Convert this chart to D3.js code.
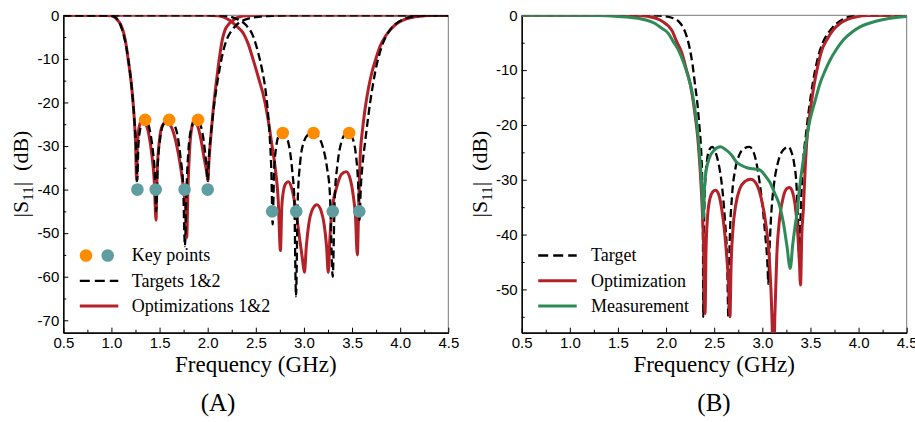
<!DOCTYPE html>
<html>
<head>
<meta charset="utf-8">
<script src="https://cdn.jsdelivr.net/npm/d3@7"></script>
<style>
body{margin:0;background:#fff;}
svg{display:block;}
.tick text{font-family:"Liberation Sans",Arial,sans-serif;font-size:15px;fill:#000;}
.serif{font-family:"Liberation Serif","Times New Roman",serif;fill:#000;}
</style>
</head>
<body>
<script>
// ticks
var freqTicks=[0.5,1.0,1.5,2.0,2.5,3.0,3.5,4.0,4.5];
var xTickLabels=["0.5","1.0","1.5","2.0","2.5","3.0","3.5","4.0","4.5"];
var freqMinor=[0.75,1.25,1.75,2.25,2.75,3.25,3.75,4.25];
var yTicksA=[0,-10,-20,-30,-40,-50,-60,-70];
var yTicksB=[0,-10,-20,-30,-40,-50];

// (A) key points [GHz, dB]
var keyOrange=[[1.35,-24],[1.60,-24],[1.90,-24],[2.78,-27],[3.10,-27],[3.47,-27]];
var keyTeal=[[1.27,-40],[1.46,-40],[1.76,-40],[2.00,-40],[2.67,-45],[2.92,-45],[3.30,-45],[3.575,-45]];

// (A) target 1 (dashed)
var target1=[[0.5,0],[0.95,0],[1.0,-0.1],[1.04,-0.4],[1.07,-1.2],[1.1,-2.6],[1.13,-4.8],[1.16,-8],[1.19,-12.5],
  [1.215,-17.5],[1.24,-24.5],[1.255,-30],[1.268,-38],[1.28,-30],[1.3,-26],[1.325,-24.3],[1.35,-24],[1.375,-24.6],
  [1.4,-26.5],[1.43,-31],[1.45,-36],[1.465,-45],[1.48,-35],[1.505,-28.5],[1.54,-25],[1.6,-24],[1.65,-25],[1.69,-28],
  [1.72,-33],[1.745,-39],[1.764,-53],[1.78,-40],[1.8,-31],[1.83,-26],[1.865,-24.3],[1.9,-24],[1.93,-25.5],[1.96,-29],
  [1.985,-34],[2.0,-38],[2.015,-32],[2.04,-26],[2.07,-20],[2.1,-15.5],[2.135,-11],[2.17,-7.5],[2.21,-5],[2.25,-3.5],
  [2.3,-2.2],[2.34,-1.5],[2.39,-1],[2.45,-0.6],[2.55,-0.3],[2.7,-0.1],[2.9,0],[4.5,0]];
// (A) target 2 (dashed)
var target2=[[0.5,0],[2.1,0],[2.18,-0.1],[2.25,-0.4],[2.32,-1],[2.4,-2.3],[2.474,-4.9],[2.526,-8.7],[2.57,-13],
  [2.6,-17],[2.625,-22],[2.645,-28],[2.662,-36],[2.675,-48],[2.69,-36],[2.71,-30.5],[2.74,-27.6],[2.78,-27],
  [2.82,-28],[2.85,-30.5],[2.88,-36],[2.9,-42],[2.918,-64.5],[2.935,-43],[2.96,-34],[3.0,-29],[3.05,-27.3],[3.1,-27],
  [3.15,-27.8],[3.2,-30.5],[3.24,-35],[3.27,-41],[3.299,-60],[3.32,-42],[3.35,-34],[3.39,-29],[3.43,-27.3],[3.47,-27],
  [3.51,-28.5],[3.54,-32],[3.562,-38],[3.578,-47],[3.59,-40],[3.61,-34],[3.634,-29.4],[3.687,-20.2],[3.738,-13.3],
  [3.808,-7.2],[3.894,-3.4],[4.016,-1.1],[4.17,-0.2],[4.3,0],[4.5,0]];
// (A) optimization 1 (red)
var opt1=[[0.5,0],[0.9,0],[1.0,-0.1],[1.03,-0.4],[1.06,-1],[1.09,-1.9],[1.12,-3.5],[1.145,-5.8],[1.175,-10.3],
  [1.21,-16.4],[1.235,-23],[1.25,-29],[1.262,-38],[1.27,-30],[1.285,-26],[1.31,-24.3],[1.335,-24],[1.36,-25],
  [1.39,-27.5],[1.42,-32],[1.445,-38],[1.463,-47],[1.475,-36],[1.5,-28.5],[1.53,-25.3],[1.575,-24.4],[1.62,-25.5],
  [1.67,-29],[1.72,-35],[1.755,-41],[1.772,-45],[1.782,-51],[1.795,-40],[1.815,-30],[1.84,-25.2],[1.865,-24],
  [1.89,-25],[1.93,-28.5],[1.965,-33],[1.99,-36],[2.003,-38],[2.012,-34],[2.025,-30],[2.05,-23.5],[2.076,-17.9],
  [2.1,-13.5],[2.128,-8.8],[2.155,-5.3],[2.18,-3.4],[2.22,-2],[2.25,-1.4],[2.3,-0.6],[2.34,-0.3],[2.4,-0.1],[2.5,0],[4.5,0]];
// (A) optimization 2 (red)
var opt2=[[0.5,0],[2.0,0],[2.1,-0.1],[2.15,-0.3],[2.2,-0.8],[2.25,-1.5],[2.3,-2.5],[2.37,-4.1],[2.42,-6.5],
  [2.474,-10.3],[2.53,-14.5],[2.59,-19.4],[2.64,-25.6],[2.665,-29.4],[2.7,-34.7],[2.733,-42.4],[2.756,-54],
  [2.77,-44],[2.79,-40],[2.815,-38.5],[2.84,-38.2],[2.87,-39.5],[2.9,-42.5],[2.93,-47],[2.96,-52],[2.985,-56],
  [3.005,-59],[3.025,-53],[3.05,-48],[3.09,-44.5],[3.135,-43.5],[3.18,-45],[3.21,-48],[3.235,-53],[3.253,-59],
  [3.27,-51],[3.3,-43.5],[3.34,-39.5],[3.39,-36.5],[3.44,-35.9],[3.48,-37.5],[3.51,-41],[3.535,-46],[3.555,-55],
  [3.568,-45],[3.583,-33.2],[3.61,-26],[3.634,-21.7],[3.67,-16.8],[3.704,-13.3],[3.75,-9.8],[3.79,-7.2],[3.85,-4.7],
  [3.894,-3.4],[3.96,-2],[4.03,-1.1],[4.12,-0.5],[4.206,-0.2],[4.3,-0.05],[4.5,0]];

// (B) target (dashed)
var targetB=[[0.5,0],[1.85,0],[1.9,-0.05],[2.0,-0.2],[2.075,-0.55],[2.13,-1.1],[2.17,-2],[2.215,-3.9],[2.245,-6],
  [2.275,-9],[2.3,-12.5],[2.327,-16.4],[2.345,-20],[2.362,-24],[2.375,-30],[2.383,-40],[2.387,-55],[2.393,-40],
  [2.405,-31],[2.425,-26.5],[2.45,-24.5],[2.48,-24],[2.51,-24.8],[2.545,-27],[2.58,-31],[2.61,-37],[2.635,-45],
  [2.647,-55],[2.66,-42],[2.685,-33],[2.72,-28],[2.76,-25.5],[2.81,-24.3],[2.865,-24],[2.91,-25],[2.95,-28],
  [2.99,-33],[3.03,-40],[3.055,-46],[3.062,-49],[3.072,-44],[3.09,-37],[3.12,-31],[3.16,-27],[3.2,-25],[3.24,-24.2],
  [3.27,-24],[3.3,-24.8],[3.33,-27],[3.355,-31],[3.372,-38],[3.385,-45],[3.395,-38],[3.41,-31],[3.43,-25.5],
  [3.455,-21.5],[3.478,-18],[3.53,-11.8],[3.6,-6.3],[3.65,-4.2],[3.703,-2.8],[3.77,-1.5],[3.84,-0.7],[3.9,-0.3],
  [4.0,-0.05],[4.1,0],[4.5,0]];
// (B) optimization (red)
var optB=[[0.5,0],[1.6,0],[1.75,-0.1],[1.85,-0.35],[1.937,-0.86],[2.0,-1.6],[2.058,-2.7],[2.11,-4.8],[2.162,-6.8],
  [2.21,-9.8],[2.25,-12.5],[2.3,-18],[2.33,-22.5],[2.355,-28.5],[2.375,-35],[2.392,-43],[2.405,-54.4],[2.415,-43],
  [2.43,-37],[2.455,-33.5],[2.485,-32.2],[2.515,-31.9],[2.545,-32.6],[2.575,-35],[2.605,-39],[2.63,-44],[2.65,-49],
  [2.664,-55],[2.675,-46],[2.695,-39],[2.725,-34.5],[2.765,-31.7],[2.82,-30.3],[2.88,-29.9],[2.94,-30.8],[2.99,-33.5],
  [3.04,-38.5],[3.075,-45],[3.1,-55],[3.115,-66],[3.13,-55],[3.15,-44],[3.18,-37],[3.22,-33],[3.255,-31.6],
  [3.285,-31.4],[3.315,-32.3],[3.34,-34.5],[3.365,-39],[3.385,-45],[3.397,-49.2],[3.41,-40],[3.426,-35.5],
  [3.445,-28],[3.46,-23.4],[3.49,-18.5],[3.513,-15.5],[3.55,-11.5],[3.582,-8.8],[3.62,-6.3],[3.669,-4.5],
  [3.74,-2.6],[3.807,-1.5],[3.89,-0.7],[3.98,-0.25],[4.1,-0.05],[4.5,0]];
// (B) measurement (green)
var measB=[[0.5,0],[1.3,-0.05],[1.5,-0.2],[1.71,-0.55],[1.8,-0.9],[1.885,-1.5],[1.95,-2.3],[2.023,-3.3],[2.075,-4.8],
  [2.127,-6.3],[2.18,-8.5],[2.23,-11.2],[2.27,-14],[2.3,-17.3],[2.33,-21.5],[2.353,-26.4],[2.372,-31.5],[2.387,-37],
  [2.4,-31],[2.42,-28],[2.45,-26],[2.5,-24.6],[2.565,-24],[2.62,-24.5],[2.68,-25.5],[2.733,-26.8],[2.786,-27.4],
  [2.84,-27.8],[2.9,-28],[2.96,-28.1],[3.01,-28.8],[3.045,-29.6],[3.08,-30.5],[3.13,-32.5],[3.184,-35],[3.22,-38],
  [3.255,-42],[3.29,-46.2],[3.315,-42],[3.34,-38.5],[3.357,-36.5],[3.39,-31],[3.426,-26.4],[3.46,-22.5],
  [3.495,-19.1],[3.55,-15.5],[3.6,-12.4],[3.65,-10.2],[3.703,-8.2],[3.77,-6.2],[3.841,-4.5],[3.93,-3.1],
  [4.015,-2.1],[4.12,-1.4],[4.222,-0.9],[4.35,-0.5],[4.465,-0.25],[4.5,-0.2]];

var red="#b22228", green="#2e8b57", orange="#ff8c00", teal="#5f9ea0";
var W=915,H=422,top0=15.3,bot=332.7,pw=385;

var svg=d3.select("body").append("svg").attr("width",W).attr("height",H);
var defs=svg.append("defs");

function panel(p){
  var x=d3.scaleLinear().domain([0.5,4.5]).range([p.left,p.left+pw]);
  var y=d3.scaleLinear().domain([0,p.yMin]).range([top0,bot]);
  var g=svg.append("g");

  defs.append("clipPath").attr("id","clip"+p.id)
    .append("rect").attr("x",p.left).attr("y",top0).attr("width",pw).attr("height",bot-top0);

  // top and right frame
  g.append("path")
    .attr("d","M"+x(0.5)+","+top0+"H"+x(4.5)+"V"+bot)
    .attr("fill","none").attr("stroke","#777").attr("stroke-width",1);

  g.append("g").attr("transform","translate(0,"+bot+")")
    .call(d3.axisBottom(x).tickValues(freqTicks).tickFormat(function(d,i){return xTickLabels[i];})
      .tickSizeInner(-5).tickSizeOuter(0).tickPadding(5));
  g.append("g").attr("transform","translate(0,"+bot+")")
    .call(d3.axisBottom(x).tickValues(freqMinor).tickFormat("").tickSizeInner(-3).tickSizeOuter(0));

  var yMinor=[];
  for(var i=0;i<p.yTicks.length;i++){ if(p.yTicks[i]-5>=p.yMin) yMinor.push(p.yTicks[i]-5); }
  g.append("g").attr("transform","translate("+p.left+",0)")
    .call(d3.axisLeft(y).tickValues(p.yTicks).tickFormat(d3.format("d")).tickSizeInner(-5).tickSizeOuter(0).tickPadding(4));
  g.append("g").attr("transform","translate("+p.left+",0)")
    .call(d3.axisLeft(y).tickValues(yMinor).tickFormat("").tickSizeInner(-3).tickSizeOuter(0));
  g.selectAll(".domain").attr("stroke","#000").attr("stroke-width",1.2);
  g.selectAll(".tick line").attr("stroke","#000");
  g.selectAll(".tick text").text(function(){return this.textContent.replace("\u2212","-");});

  var line=d3.line().x(function(d){return x(d[0]);}).y(function(d){return y(d[1]);}).curve(d3.curveMonotoneX);
  var plot=g.append("g").attr("clip-path","url(#clip"+p.id+")");
  p.series.forEach(function(s){
    plot.append("path").datum(s.data).attr("d",line)
      .attr("fill","none").attr("stroke",s.color).attr("stroke-width",s.width)
      .attr("stroke-dasharray",s.dash||null).attr("stroke-linejoin","round");
  });
  (p.points||[]).forEach(function(s){
    plot.selectAll(null).data(s.data).enter().append("circle")
      .attr("cx",function(d){return x(d[0]);}).attr("cy",function(d){return y(d[1]);})
      .attr("r",6.3).attr("fill",s.color);
  });

  // axis titles
  g.append("text").attr("class","serif").attr("x",p.left+pw/2).attr("y",371.5)
    .attr("text-anchor","middle").style("font-size","23px").text("Frequency (GHz)");
  var yt=g.append("text").attr("class","serif")
    .attr("transform","translate("+(p.left-35)+",174) rotate(-90)")
    .attr("text-anchor","middle").style("font-size","22px");
  yt.append("tspan").text("|S");
  yt.append("tspan").attr("dy",5).style("font-size","15px").text("11");
  yt.append("tspan").attr("dy",-5).text("|  (dB)").attr("xml:space","preserve");
  g.append("text").attr("class","serif").attr("x",p.labelX).attr("y",411)
    .attr("text-anchor","middle").style("font-size","25px").text(p.label);

  // legend
  var lg=g.append("g");
  p.legend.forEach(function(it,i){
    var ly=255.5+i*25.3;
    if(it.dots){
      lg.append("circle").attr("cx",p.left+22.7).attr("cy",ly).attr("r",6.3).attr("fill",orange);
      lg.append("circle").attr("cx",p.left+44.4).attr("cy",ly).attr("r",6.3).attr("fill",teal);
    } else {
      lg.append("line").attr("x1",p.left+16.5).attr("x2",p.left+55).attr("y1",ly).attr("y2",ly)
        .attr("stroke",it.color).attr("stroke-width",it.width).attr("stroke-dasharray",it.dash||null);
    }
    lg.append("text").attr("class","serif").attr("x",p.left+p.textDx).attr("y",ly+5.8)
      .style("font-size","18px").text(it.name);
  });
}

panel({id:"A",left:63.3,yMin:-72.85,yTicks:yTicksA,label:"(A)",labelX:218,textDx:68.4,
  series:[
    {data:opt1,color:red,width:3},
    {data:opt2,color:red,width:3},
    {data:target1,color:"#000",width:2.3,dash:"8,4"},
    {data:target2,color:"#000",width:2.3,dash:"8,4"}
  ],
  points:[{data:keyOrange,color:orange},{data:keyTeal,color:teal}],
  legend:[
    {name:"Key points",dots:true},
    {name:"Targets 1&2",color:"#000",width:2.3,dash:"10,5"},
    {name:"Optimizations 1&2",color:red,width:3}
  ]});

panel({id:"B",left:521.7,yMin:-57.9,yTicks:yTicksB,label:"(B)",labelX:714,textDx:69.3,
  series:[
    {data:targetB,color:"#000",width:2.3,dash:"8,4"},
    {data:optB,color:red,width:3},
    {data:measB,color:green,width:3}
  ],
  legend:[
    {name:"Target",color:"#000",width:2.3,dash:"10,5"},
    {name:"Optimization",color:red,width:3},
    {name:"Measurement",color:green,width:3}
  ]});
</script>
</body>
</html>
